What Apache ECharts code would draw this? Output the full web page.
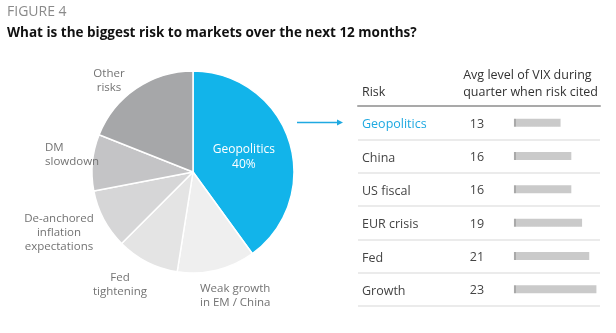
<!DOCTYPE html>
<html>
<head>
<meta charset="utf-8">
<script src="https://cdn.jsdelivr.net/npm/echarts@6/dist/echarts.min.js"></script>
<style>
  html, body { margin: 0; padding: 0; background: #fff; }
  #chart { width: 616px; height: 333px; }
</style>
</head>
<body>
<div id="chart"></div>
<script>
// Survey shares by risk (pie, clockwise from 12 o'clock)
const pieNames = ['Geopolitics', 'Weak growth\nin EM / China', 'Fed\ntightening',
  'De-anchored\ninflation\nexpectations', 'DM\nslowdown', 'Other\nrisks'];
const pieShares = [40, 12.5, 10, 9.5, 9, 19];
const pieColors = ['#12b4ea', '#efefef', '#e4e4e4', '#d6d6d7', '#c4c4c6', '#a6a7a9'];

// Table: risk cited vs. average VIX level that quarter
const riskNames = ['Geopolitics', 'China', 'US fiscal', 'EUR crisis', 'Fed', 'Growth'];
const vixLevels = [13, 16, 16, 19, 21, 23];

// Placement of the outside pie labels [x, y, align]
const pieLabelLayout = [
  null,
  [200, 296, 'left'],
  [120, 285, 'center'],
  [59, 233, 'center'],
  [45, 155, 'left'],
  [109, 81, 'center']
];

const FONT = '"Open Sans", "Noto Sans", sans-serif';
const chart = echarts.init(document.getElementById('chart'));

// bar fill with a darker cap at the zero line (global pixel coords of the bar grid)
const barFill = new echarts.graphic.LinearGradient(514, 0, 600, 0, [
  { offset: 0, color: '#a9a9a9' },
  { offset: 0.022, color: '#a9a9a9' },
  { offset: 0.024, color: '#cacaca' },
  { offset: 1, color: '#cacaca' }
], true);

chart.setOption({
  animation: false,
  textStyle: { fontFamily: FONT },
  grid: { left: 358, right: 16, top: 106, height: 200 },
  xAxis: {
    type: 'value', position: 'top', min: -43.5, max: 24,
    axisLine: { show: true, lineStyle: { color: '#a9a9a9', width: 2 } },
    axisTick: { show: false }, axisLabel: { show: false }, splitLine: { show: false }
  },
  yAxis: {
    type: 'category', inverse: true, data: riskNames,
    axisLine: { show: false }, axisTick: { show: false },
    axisLabel: {
      inside: true, margin: 4,
      formatter: (v, i) => (i === 0 ? '{hl|' + v + '}' : '{n|' + v + '}'),
      rich: {
        hl: { color: '#1fa9e1', fontSize: 12.5, fontFamily: FONT, padding: [4, 0, 0, 0] },
        n: { color: '#444', fontSize: 12.5, fontFamily: FONT, padding: [4, 0, 0, 0] }
      }
    },
    splitLine: { show: true, lineStyle: { color: '#e4e4e4', width: 1.5 } }
  },
  series: [
    {
      type: 'pie',
      center: [193, 172], radius: [0, 101],
      startAngle: 90, clockwise: true,
      itemStyle: { borderColor: '#fff', borderWidth: 1.5 },
      label: {
        show: true, position: 'outside', color: '#737373',
        fontSize: 11.5, lineHeight: 14, fontFamily: FONT,
        overflow: 'none', width: 120,
        formatter: p => p.name
      },
      labelLine: { show: false },
      labelLayout: p => {
        const lay = pieLabelLayout[p.dataIndex];
        if (!lay) return { dy: 2 };
        return { x: lay[0], y: lay[1], align: lay[2], verticalAlign: 'middle' };
      },
      data: pieNames.map((n, i) => ({
        name: n, value: pieShares[i],
        itemStyle: { color: pieColors[i] },
        label: i === 0 ? {
          position: 'inside', color: '#fff', fontSize: 12, lineHeight: 15,
          formatter: p => p.name + '\n' + Math.round(p.percent) + '%'
        } : undefined
      }))
    },
    {
      type: 'bar',
      data: vixLevels,
      barWidth: 8,
      itemStyle: { color: barFill },
      label: {
        show: true, position: [-37, 5.5], align: 'center', verticalAlign: 'middle',
        color: '#444', fontSize: 12.5, fontFamily: FONT
      }
    }
  ],
  graphic: [
    { type: 'text', left: 7, top: 5,
      style: { text: 'FIGURE 4', fill: '#8a8a8a', font: '14px ' + FONT } },
    { type: 'text', left: 7, top: 26,
      style: { text: 'What is the biggest risk to markets over the next 12 months?',
        fill: '#111', font: 'bold 13.5px ' + FONT } },
    { type: 'text', left: 362, top: 86,
      style: { text: 'Risk', fill: '#333', font: '12.5px ' + FONT } },
    { type: 'text', right: 18, top: 67,
      style: { text: 'Avg level of VIX during\nquarter when risk cited', fill: '#333',
        font: '12.5px ' + FONT, lineHeight: 17, align: 'right' } },
    { type: 'line', shape: { x1: 297, y1: 122.5, x2: 338, y2: 122.5 },
      style: { stroke: '#1fa9e1', lineWidth: 1.5 } },
    { type: 'polygon', shape: { points: [[337, 119.5], [343, 122.5], [337, 125.5]] },
      style: { fill: '#1fa9e1' } }
  ]
});
</script>
</body>
</html>
